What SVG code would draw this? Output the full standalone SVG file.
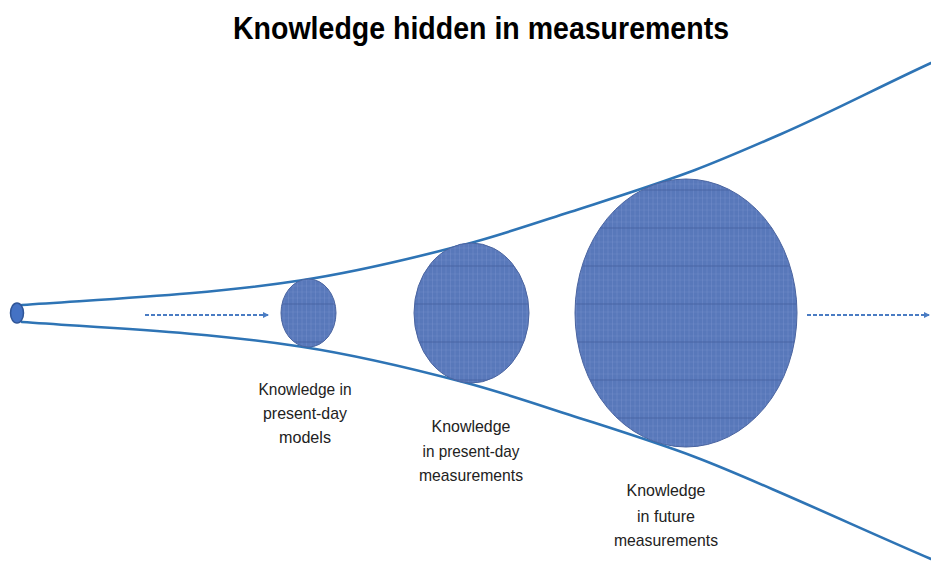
<svg xmlns="http://www.w3.org/2000/svg" width="931" height="563" viewBox="0 0 931 563">
  <style>
    .cone { fill: none; stroke: #2e74b5; stroke-width: 2.6; stroke-linecap: round; }
    .flow { fill: none; stroke: #4a7cc3; stroke-width: 2; stroke-dasharray: 4 2; }
    .blob { fill: url(#weave); stroke: #4a64a0; stroke-width: 1; }
    .title { font-family: "Liberation Sans", Arial, sans-serif; font-weight: bold; font-size: 31px; fill: #000; }
    .label { font-family: "Liberation Sans", Arial, sans-serif; font-size: 17px; fill: #222; text-anchor: middle; }
  </style>
  <defs>
    <!-- woven texture for the knowledge spheres -->
    <pattern id="weave" patternUnits="userSpaceOnUse" x="0" y="2" width="9" height="38">
      <rect width="9" height="38" fill="#5878ba"/>
      <path d="M0.5 0V38M5 0V38" stroke="#819bd1" stroke-width="0.6" opacity="0.5"/>
      <path d="M0 6H9M0 12H9M0 18H9M0 24H9M0 30H9" stroke="#819bd1" stroke-width="0.5" opacity="0.45"/>
      <path d="M0 36H9" stroke="#415d9a" stroke-width="1.4" opacity="0.55"/>
    </pattern>
    <marker id="tip" viewBox="0 0 6 6" refX="5" refY="3" markerWidth="3.2" markerHeight="3.2" orient="auto">
      <path d="M0 0L6 3L0 6Z" fill="#4a7cc3"/>
    </marker>
  </defs>

  <text class="title" x="481" y="39" text-anchor="middle" textLength="496" lengthAdjust="spacingAndGlyphs">Knowledge hidden in measurements</text>

  <g id="connectors">
    <!-- upper and lower edges of the widening cone -->
    <path class="cone" d="M22,305 C114.7,298.5 207.3,294.7 300,280.5 C355,272.1 410,259 465,244.5 C500,235.3 535,223.3 570,212 C611.7,198.5 653.3,185.7 695,170 C723.3,159.3 751.7,146.8 780,134.5 C830.3,112.7 880.7,86.1 931,63"/>
    <path class="cone" d="M22,322 C114.7,328.5 207.3,332.3 300,346.5 C355,354.9 410,368 465,382.5 C500,391.7 535,403.7 570,415 C611.7,428.5 653.3,441.3 695,457 C723.3,467.7 751.7,480.2 780,492.5 C830.3,514.3 880.7,537.4 931,559"/>
    <path class="flow" d="M145,315 H268" marker-end="url(#tip)"/>
    <path class="flow" d="M807,315 H929" marker-end="url(#tip)"/>
  </g>

  <g id="origin">
    <ellipse cx="17" cy="313" rx="6.5" ry="10" fill="#4472c4" stroke="#2f5597" stroke-width="1.5"/>
  </g>

  <g id="models">
    <ellipse class="blob" cx="308.5" cy="313" rx="27.5" ry="34"/>
    <text class="label" x="305" y="395" textLength="93" lengthAdjust="spacingAndGlyphs">Knowledge in</text>
    <text class="label" x="305" y="419" textLength="84" lengthAdjust="spacingAndGlyphs">present-day</text>
    <text class="label" x="305" y="443" textLength="52" lengthAdjust="spacingAndGlyphs">models</text>
  </g>

  <g id="present-measurements">
    <ellipse class="blob" cx="471.5" cy="313" rx="57.5" ry="70"/>
    <text class="label" x="471" y="432" textLength="79" lengthAdjust="spacingAndGlyphs">Knowledge</text>
    <text class="label" x="471" y="457" textLength="97" lengthAdjust="spacingAndGlyphs">in present-day</text>
    <text class="label" x="471" y="481" textLength="104" lengthAdjust="spacingAndGlyphs">measurements</text>
  </g>

  <g id="future-measurements">
    <ellipse class="blob" cx="686" cy="313" rx="111" ry="134"/>
    <text class="label" x="666" y="496" textLength="79" lengthAdjust="spacingAndGlyphs">Knowledge</text>
    <text class="label" x="666" y="522" textLength="58" lengthAdjust="spacingAndGlyphs">in future</text>
    <text class="label" x="666" y="546" textLength="104" lengthAdjust="spacingAndGlyphs">measurements</text>
  </g>
</svg>
